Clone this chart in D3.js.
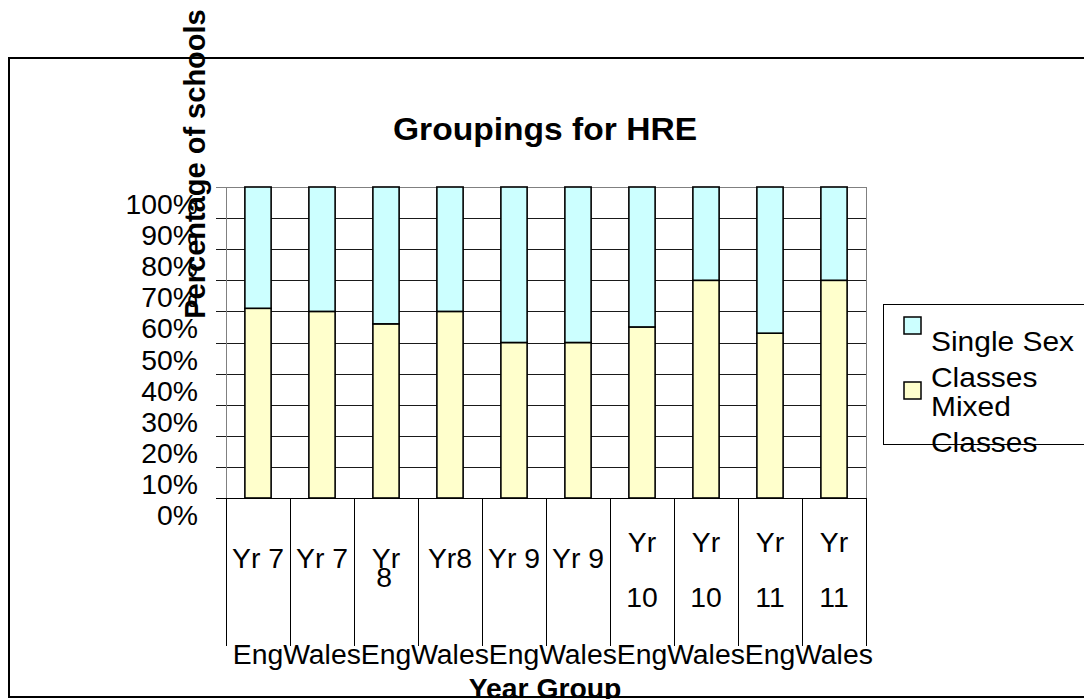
<!DOCTYPE html>
<html>
<head>
<meta charset="utf-8">
<script src="https://cdn.jsdelivr.net/npm/d3@7"></script>
<style>
  html, body { margin: 0; padding: 0; background: #fff; }
  svg { display: block; }
  text { font-family: "Liberation Sans", Arial, sans-serif; fill: #000; }
</style>
</head>
<body>
<svg id="chart" width="1084" height="699"></svg>
<script>
// ---- data ----
const categories = ["Yr 7 Eng", "Yr 7 Wales", "Yr 8 Eng", "Yr8 Wales", "Yr 9 Eng",
                    "Yr 9 Wales", "Yr 10 Eng", "Yr 10 Wales", "Yr 11 Eng", "Yr 11 Wales"];
const mixedClasses = [61, 60, 56, 60, 50, 50, 55, 70, 53, 70];
const singleSexClasses = [39, 40, 44, 40, 50, 50, 45, 30, 47, 30];
const yearLabelLines = [["Yr 7"], ["Yr 7"], ["Yr", "8"], ["Yr8"], ["Yr 9"], ["Yr 9"],
                        ["Yr", "10"], ["Yr", "10"], ["Yr", "11"], ["Yr", "11"]];
const countryLabels = ["Eng", "Wales", "Eng", "Wales", "Eng", "Wales", "Eng", "Wales", "Eng", "Wales"];
const yTickValues = [0, 10, 20, 30, 40, 50, 60, 70, 80, 90, 100];
const seriesNames = ["Single Sex Classes", "Mixed Classes"];
const legendLines = [["Single Sex", "Classes"], ["Mixed", "Classes"]];
const chartTitle = "Groupings for HRE";
const yAxisTitle = "Percentage of schools";
const xAxisTitle = "Year Group";

// ---- layout ----
const SX = 1.05; // horizontal text stretch seen in reference
const colors = { "Single Sex Classes": "#CCFFFF", "Mixed Classes": "#FFFFCC" };
const plot = { left: 226, right: 866, top: 187, bottom: 498 };

const svg = d3.select("#chart");

function addText(parent, x, y, str, opts = {}) {
  return parent.append("text")
    .attr("transform", `translate(${x},${y}) scale(${opts.sx ?? SX},1)`)
    .attr("text-anchor", opts.anchor || "start")
    .style("font-size", (opts.size || 27) + "px")
    .style("font-weight", opts.bold ? "bold" : "normal")
    .text(str);
}

// outer chart border
svg.append("rect").attr("x", 9).attr("y", 58).attr("width", 1090).attr("height", 639)
  .attr("fill", "none").attr("stroke", "#000").attr("stroke-width", 2);

const x = d3.scaleBand().domain(categories).range([plot.left, plot.right]).paddingInner(0).paddingOuter(0);
const y = d3.scaleLinear().domain([0, 100]).range([plot.bottom, plot.top]);

// gridlines + left tick marks
svg.append("g").selectAll("line").data(yTickValues).join("line")
  .attr("x1", plot.left - 10).attr("x2", plot.right)
  .attr("y1", d => Math.round(y(d)) + 0.5).attr("y2", d => Math.round(y(d)) + 0.5)
  .attr("stroke", d => d === 100 ? "#808080" : "#1a1a1a").attr("stroke-width", 1);

// plot area left / right border
svg.append("line").attr("x1", plot.left + 0.5).attr("x2", plot.left + 0.5)
  .attr("y1", plot.top).attr("y2", plot.bottom).attr("stroke", "#808080");
svg.append("line").attr("x1", plot.right + 0.5).attr("x2", plot.right + 0.5)
  .attr("y1", plot.top).attr("y2", plot.bottom).attr("stroke", "#808080");

// stacked bars
const stackData = categories.map((c, i) => ({ cat: c, "Mixed Classes": mixedClasses[i], "Single Sex Classes": singleSexClasses[i] }));
const stack = d3.stack().keys(["Mixed Classes", "Single Sex Classes"])(stackData);
const barW = x.bandwidth() * 0.41;
svg.append("g").selectAll("g").data(stack).join("g")
  .attr("fill", d => colors[d.key])
  .selectAll("rect").data(d => d).join("rect")
  .attr("x", d => x(d.data.cat) + (x.bandwidth() - barW) / 2)
  .attr("width", barW)
  .attr("y", d => y(d[1]))
  .attr("height", d => y(d[0]) - y(d[1]))
  .attr("stroke", "#000").attr("stroke-width", 1.6);

// bottom axis line
svg.append("line").attr("x1", plot.left - 10).attr("x2", plot.right + 1)
  .attr("y1", plot.bottom + 0.5).attr("y2", plot.bottom + 0.5).attr("stroke", "#000");

// category dividers (long tick marks)
const bounds = categories.map(c => x(c)).concat([plot.right]);
svg.append("g").selectAll("line").data(bounds).join("line")
  .attr("x1", d => Math.round(d) + 0.5).attr("x2", d => Math.round(d) + 0.5)
  .attr("y1", plot.bottom).attr("y2", 646).attr("stroke", "#000");

// y tick labels (offset below their gridlines as in reference)
const yLab = svg.append("g");
yTickValues.forEach(v => addText(yLab, 198, y(v) + 27, v + "%", { anchor: "end" }));

// category labels
const xLab = svg.append("g");
categories.forEach((c, i) => {
  const cx = x(c) + x.bandwidth() / 2;
  const lines = yearLabelLines[i];
  if (lines.length === 1) {
    addText(xLab, cx, 568, lines[0], { anchor: "middle" });
  } else if (lines[1].length === 1) {
    addText(xLab, cx, 568, lines[0], { anchor: "middle" });
    addText(xLab, cx - 2, 587, lines[1], { anchor: "middle" });
  } else {
    addText(xLab, cx, 552, lines[0], { anchor: "middle" });
    addText(xLab, cx, 607, lines[1], { anchor: "middle" });
  }
  addText(xLab, cx, 664, countryLabels[i], { anchor: "middle" });
});

// titles
addText(svg, 545, 140, chartTitle, { anchor: "middle", bold: true, size: 32 });
svg.append("text")
  .attr("transform", `translate(205,164) rotate(-90)`)
  .attr("text-anchor", "middle")
  .style("font-size", "29px").style("font-weight", "bold")
  .text(yAxisTitle);
addText(svg, 545, 698, xAxisTitle, { anchor: "middle", bold: true, size: 27 });

// legend
const lg = svg.append("g");
lg.append("rect").attr("x", 883.5).attr("y", 304.5).attr("width", 220).attr("height", 140)
  .attr("fill", "#fff").attr("stroke", "#000").attr("stroke-width", 1);
seriesNames.forEach((s, i) => {
  const top = 317 + i * 65;
  lg.append("rect").attr("x", 904).attr("y", top).attr("width", 17).attr("height", 17)
    .attr("fill", colors[s]).attr("stroke", "#000").attr("stroke-width", 1.5);
  legendLines[i].forEach((ln, j) => addText(lg, 931, top + 34 + j * 35.5, ln, { size: 28.5 }));
});
</script>
</body>
</html>
